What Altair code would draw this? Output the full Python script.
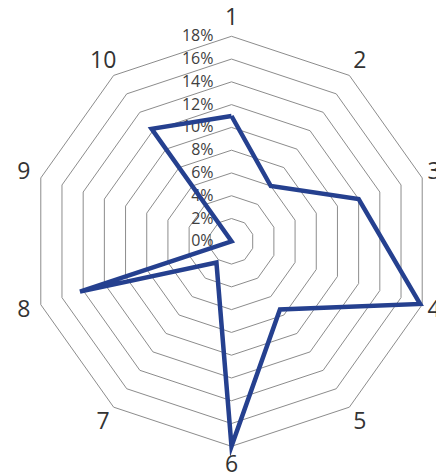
import numpy as np
import pandas as pd
import altair as alt

categories = ["1", "2", "3", "4", "5", "6", "7", "8", "9", "10"]
values = [11.0, 6.0, 12.0, 17.8, 7.4, 18.0, 2.3, 14.3, 0.0, 12.2]
ring_levels = [2, 4, 6, 8, 10, 12, 14, 16, 18]
tick_levels = [0, 2, 4, 6, 8, 10, 12, 14, 16, 18]
tick_labels = ["0%", "2%", "4%", "6%", "8%", "10%", "12%", "14%", "16%", "18%"]

n = len(categories)
angles = [2 * np.pi * i / n for i in range(n)]

rows = []
for i in range(n + 1):
    k = i % n
    rows.append({"order": i, "x": values[k] * np.sin(angles[k]), "y": values[k] * np.cos(angles[k])})
poly = pd.DataFrame(rows)

rrows = []
for lv in ring_levels:
    for i in range(n + 1):
        k = i % n
        rrows.append({"level": lv, "order": i, "x": lv * np.sin(angles[k]), "y": lv * np.cos(angles[k])})
rings = pd.DataFrame(rrows)

ticks = pd.DataFrame({"x": [0.0] * len(tick_levels), "y": tick_levels, "label": tick_labels})

label_r = 19.6
cats = pd.DataFrame({
    "x": [label_r * np.sin(a) for a in angles],
    "y": [label_r * np.cos(a) for a in angles],
    "label": categories,
})
edge = cats["label"].isin(["3", "4"])
cats_main = cats[~edge]
cats_edge = cats[edge]

W, H = 428, 467
PX_X, PX_Y = 11.14, 11.39
CX, CY = 223.5, 233.3
xs = alt.Scale(domain=[-CX / PX_X, (W - CX) / PX_X], nice=False, zero=False)
ys = alt.Scale(domain=[-(H - CY) / PX_Y, CY / PX_Y], nice=False, zero=False)
X = lambda: alt.X("x:Q", scale=xs, axis=None)
Y = lambda: alt.Y("y:Q", scale=ys, axis=None)

ring_layer = alt.Chart(rings).mark_line(color="#8c8c8c", strokeWidth=1).encode(
    x=X(), y=Y(), detail="level:N", order="order:Q"
)

tick_layer = alt.Chart(ticks).mark_text(
    align="right", baseline="middle", dx=-18, fontSize=16, color="#404040", font="Open Sans"
).encode(x=X(), y=Y(), text="label:N")

poly_layer = alt.Chart(poly).mark_line(
    color="#25408F", strokeWidth=4.5, strokeJoin="miter", strokeMiterLimit=5
).encode(x=X(), y=Y(), order="order:Q")

cat_layer = alt.Chart(cats_main).mark_text(
    align="center", baseline="middle", fontSize=23, color="#333333", font="Open Sans"
).encode(x=X(), y=Y(), text="label:N")

cat_edge_layer = alt.Chart(cats_edge).mark_text(
    align="center", baseline="middle", dx=-5, fontSize=23, color="#333333", font="Open Sans"
).encode(x=X(), y=Y(), text="label:N")

chart = alt.layer(ring_layer, tick_layer, poly_layer, cat_layer, cat_edge_layer).properties(
    width=W, height=H, autosize=alt.AutoSizeParams(type="none"), padding=0
).configure_view(stroke=None)

chart.save("out.html", embed_options={"renderer": "svg", "actions": False})
